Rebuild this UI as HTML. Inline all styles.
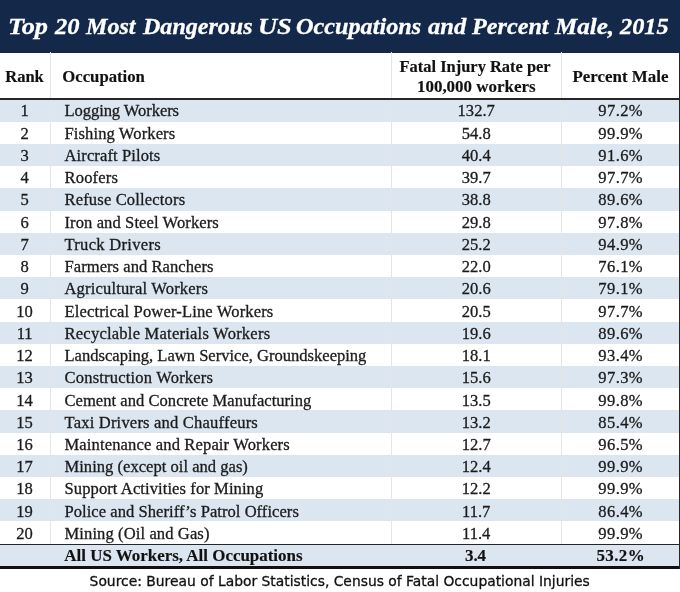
<!DOCTYPE html>
<html><head><meta charset="utf-8"><title>Top 20 Most Dangerous US Occupations</title>
<style>
html,body{margin:0;padding:0;}
body{width:680px;height:592px;position:relative;overflow:hidden;background:#fff;font-family:"Liberation Serif",serif;color:#1b1b1b;}
.abs{position:absolute;}
.banner{left:0;top:0;width:680px;height:52.9px;background:#14284a;}
.t{position:absolute;line-height:20px;height:20px;white-space:nowrap;filter:blur(0.35px);-webkit-text-stroke:0.3px currentColor;}
.title{color:#fff;font-style:italic;font-weight:bold;}
.b{font-weight:bold;color:#111;-webkit-text-stroke:0.15px currentColor;}
.row{left:0;width:680px;}
.blue{background:#dce6f1;}
.vline{width:1px;background:#e5e5e5;}
.src{font-family:"DejaVu Sans","Liberation Sans",sans-serif;color:#111;}
.dark{background:#262626;}
</style></head><body>
<div class="abs banner"></div>
<div class="abs row blue" style="top:99.50px;height:22.21px;"></div>
<div class="abs row blue" style="top:143.92px;height:22.21px;"></div>
<div class="abs row blue" style="top:188.34px;height:22.21px;"></div>
<div class="abs row blue" style="top:232.76px;height:22.21px;"></div>
<div class="abs row blue" style="top:277.18px;height:22.21px;"></div>
<div class="abs row blue" style="top:321.60px;height:22.21px;"></div>
<div class="abs row blue" style="top:366.02px;height:22.21px;"></div>
<div class="abs row blue" style="top:410.44px;height:22.21px;"></div>
<div class="abs row blue" style="top:454.86px;height:22.21px;"></div>
<div class="abs row blue" style="top:499.28px;height:22.21px;"></div>
<div class="abs row blue" style="top:543.70px;height:22.90px;"></div>
<div class="abs vline" style="left:50px;top:52px;height:491.70px;"></div>
<div class="abs vline" style="left:390.6px;top:52px;height:491.70px;"></div>
<div class="abs vline" style="left:560.6px;top:52px;height:491.70px;"></div>
<div class="abs dark" style="left:0;top:97.8px;width:680px;height:1.8px;"></div>
<div class="abs dark" style="left:0;top:543.6px;width:680px;height:1.9px;"></div>
<div class="abs dark" style="left:0;top:566.4px;width:680px;height:2.2px;background:#111;"></div>
<div class="abs dark" style="left:678.5px;top:52px;width:1.5px;height:516.50px;"></div>
<div class="abs" style="left:0;top:0;width:680px;height:52px;">
<span class="t title" style="left:8.47px;top:16.27px;font-size:23.8px;transform:scaleX(1.1052);transform-origin:0 0;">Top</span> 
<span class="t title" style="left:55.26px;top:16.27px;font-size:23.8px;transform:scaleX(1.0298);transform-origin:0 0;">20</span> 
<span class="t title" style="left:85.55px;top:16.27px;font-size:23.8px;transform:scaleX(1.0131);transform-origin:0 0;">Most</span> 
<span class="t title" style="left:142.75px;top:16.27px;font-size:23.8px;transform:scaleX(1.0102);transform-origin:0 0;">Dangerous</span> 
<span class="t title" style="left:258.08px;top:16.27px;font-size:23.8px;transform:scaleX(1.1091);transform-origin:0 0;">US</span> 
<span class="t title" style="left:296.24px;top:16.27px;font-size:23.8px;transform:scaleX(1.0181);transform-origin:0 0;">Occupations</span> 
<span class="t title" style="left:428.44px;top:16.27px;font-size:23.8px;transform:scaleX(1.0324);transform-origin:0 0;">and</span> 
<span class="t title" style="left:472.00px;top:16.27px;font-size:23.8px;transform:scaleX(1.0165);transform-origin:0 0;">Percent</span> 
<span class="t title" style="left:554.96px;top:16.27px;font-size:23.8px;transform:scaleX(1.0514);transform-origin:0 0;">Male,</span> 
<span class="t title" style="left:620.06px;top:16.27px;font-size:23.8px;transform:scaleX(1.0222);transform-origin:0 0;">2015</span> 
</div>
<div class="t b" style="left:5.20px;top:66.92px;font-size:16.54px;">Rank</div>
<div class="t b" style="left:62.30px;top:66.86px;font-size:16.72px;">Occupation</div>
<div class="t b" style="left:-24.90px;width:1000px;text-align:center;top:56.54px;font-size:16.46px;">Fatal Injury Rate per</div>
<div class="t b" style="left:-23.75px;width:1000px;text-align:center;top:77.28px;font-size:16.95px;">100,000 workers</div>
<div class="t b" style="left:120.50px;width:1000px;text-align:center;top:66.99px;font-size:16.92px;">Percent Male</div>
<div class="t " style="left:-475.40px;width:1000px;text-align:center;top:101.41px;font-size:16.56px;">1</div>
<div class="t " style="left:64.50px;top:101.41px;font-size:16.56px;letter-spacing:-0.071px;">Logging Workers</div>
<div class="t " style="left:-23.80px;width:1000px;text-align:center;top:101.41px;font-size:16.56px;">132.7</div>
<div class="t " style="left:120.70px;width:1000px;text-align:center;top:101.41px;font-size:16.56px;letter-spacing:0.4px;">97.2%</div>
<div class="t " style="left:-475.40px;width:1000px;text-align:center;top:123.65px;font-size:16.56px;">2</div>
<div class="t " style="left:64.50px;top:123.65px;font-size:16.56px;letter-spacing:0.107px;">Fishing Workers</div>
<div class="t " style="left:-23.80px;width:1000px;text-align:center;top:123.65px;font-size:16.56px;">54.8</div>
<div class="t " style="left:120.70px;width:1000px;text-align:center;top:123.65px;font-size:16.56px;letter-spacing:0.4px;">99.9%</div>
<div class="t " style="left:-475.40px;width:1000px;text-align:center;top:145.89px;font-size:16.56px;">3</div>
<div class="t " style="left:64.50px;top:145.89px;font-size:16.56px;letter-spacing:0.107px;">Aircraft Pilots</div>
<div class="t " style="left:-23.80px;width:1000px;text-align:center;top:145.89px;font-size:16.56px;">40.4</div>
<div class="t " style="left:120.70px;width:1000px;text-align:center;top:145.89px;font-size:16.56px;letter-spacing:0.4px;">91.6%</div>
<div class="t " style="left:-475.40px;width:1000px;text-align:center;top:168.13px;font-size:16.56px;">4</div>
<div class="t " style="left:64.50px;top:168.13px;font-size:16.56px;letter-spacing:0.167px;">Roofers</div>
<div class="t " style="left:-23.80px;width:1000px;text-align:center;top:168.13px;font-size:16.56px;">39.7</div>
<div class="t " style="left:120.70px;width:1000px;text-align:center;top:168.13px;font-size:16.56px;letter-spacing:0.4px;">97.7%</div>
<div class="t " style="left:-475.40px;width:1000px;text-align:center;top:190.37px;font-size:16.56px;">5</div>
<div class="t " style="left:64.50px;top:190.37px;font-size:16.56px;letter-spacing:0.156px;">Refuse Collectors</div>
<div class="t " style="left:-23.80px;width:1000px;text-align:center;top:190.37px;font-size:16.56px;">38.8</div>
<div class="t " style="left:120.70px;width:1000px;text-align:center;top:190.37px;font-size:16.56px;letter-spacing:0.4px;">89.6%</div>
<div class="t " style="left:-475.40px;width:1000px;text-align:center;top:212.61px;font-size:16.56px;">6</div>
<div class="t " style="left:64.50px;top:212.61px;font-size:16.56px;letter-spacing:0.095px;">Iron and Steel Workers</div>
<div class="t " style="left:-23.80px;width:1000px;text-align:center;top:212.61px;font-size:16.56px;">29.8</div>
<div class="t " style="left:120.70px;width:1000px;text-align:center;top:212.61px;font-size:16.56px;letter-spacing:0.4px;">97.8%</div>
<div class="t " style="left:-475.40px;width:1000px;text-align:center;top:234.85px;font-size:16.56px;">7</div>
<div class="t " style="left:64.50px;top:234.85px;font-size:16.56px;letter-spacing:0.292px;">Truck Drivers</div>
<div class="t " style="left:-23.80px;width:1000px;text-align:center;top:234.85px;font-size:16.56px;">25.2</div>
<div class="t " style="left:120.70px;width:1000px;text-align:center;top:234.85px;font-size:16.56px;letter-spacing:0.4px;">94.9%</div>
<div class="t " style="left:-475.40px;width:1000px;text-align:center;top:257.09px;font-size:16.56px;">8</div>
<div class="t " style="left:64.50px;top:257.09px;font-size:16.56px;letter-spacing:0.053px;">Farmers and Ranchers</div>
<div class="t " style="left:-23.80px;width:1000px;text-align:center;top:257.09px;font-size:16.56px;">22.0</div>
<div class="t " style="left:120.70px;width:1000px;text-align:center;top:257.09px;font-size:16.56px;letter-spacing:0.4px;">76.1%</div>
<div class="t " style="left:-475.40px;width:1000px;text-align:center;top:279.33px;font-size:16.56px;">9</div>
<div class="t " style="left:64.50px;top:279.33px;font-size:16.56px;letter-spacing:0.158px;">Agricultural Workers</div>
<div class="t " style="left:-23.80px;width:1000px;text-align:center;top:279.33px;font-size:16.56px;">20.6</div>
<div class="t " style="left:120.70px;width:1000px;text-align:center;top:279.33px;font-size:16.56px;letter-spacing:0.4px;">79.1%</div>
<div class="t " style="left:-475.40px;width:1000px;text-align:center;top:301.57px;font-size:16.56px;">10</div>
<div class="t " style="left:64.50px;top:301.57px;font-size:16.56px;letter-spacing:0.143px;">Electrical Power-Line Workers</div>
<div class="t " style="left:-23.80px;width:1000px;text-align:center;top:301.57px;font-size:16.56px;">20.5</div>
<div class="t " style="left:120.70px;width:1000px;text-align:center;top:301.57px;font-size:16.56px;letter-spacing:0.4px;">97.7%</div>
<div class="t " style="left:-475.40px;width:1000px;text-align:center;top:323.81px;font-size:16.56px;">11</div>
<div class="t " style="left:64.50px;top:323.81px;font-size:16.56px;letter-spacing:0.222px;">Recyclable Materials Workers</div>
<div class="t " style="left:-23.80px;width:1000px;text-align:center;top:323.81px;font-size:16.56px;">19.6</div>
<div class="t " style="left:120.70px;width:1000px;text-align:center;top:323.81px;font-size:16.56px;letter-spacing:0.4px;">89.6%</div>
<div class="t " style="left:-475.40px;width:1000px;text-align:center;top:346.05px;font-size:16.56px;">12</div>
<div class="t " style="left:64.50px;top:346.05px;font-size:16.56px;">Landscaping, Lawn Service, Groundskeeping</div>
<div class="t " style="left:-23.80px;width:1000px;text-align:center;top:346.05px;font-size:16.56px;">18.1</div>
<div class="t " style="left:120.70px;width:1000px;text-align:center;top:346.05px;font-size:16.56px;letter-spacing:0.4px;">93.4%</div>
<div class="t " style="left:-475.40px;width:1000px;text-align:center;top:368.29px;font-size:16.56px;">13</div>
<div class="t " style="left:64.50px;top:368.29px;font-size:16.56px;letter-spacing:0.184px;">Construction Workers</div>
<div class="t " style="left:-23.80px;width:1000px;text-align:center;top:368.29px;font-size:16.56px;">15.6</div>
<div class="t " style="left:120.70px;width:1000px;text-align:center;top:368.29px;font-size:16.56px;letter-spacing:0.4px;">97.3%</div>
<div class="t " style="left:-475.40px;width:1000px;text-align:center;top:390.53px;font-size:16.56px;">14</div>
<div class="t " style="left:64.50px;top:390.53px;font-size:16.56px;letter-spacing:0.031px;">Cement and Concrete Manufacturing</div>
<div class="t " style="left:-23.80px;width:1000px;text-align:center;top:390.53px;font-size:16.56px;">13.5</div>
<div class="t " style="left:120.70px;width:1000px;text-align:center;top:390.53px;font-size:16.56px;letter-spacing:0.4px;">99.8%</div>
<div class="t " style="left:-475.40px;width:1000px;text-align:center;top:412.77px;font-size:16.56px;">15</div>
<div class="t " style="left:64.50px;top:412.77px;font-size:16.56px;letter-spacing:0.192px;">Taxi Drivers and Chauffeurs</div>
<div class="t " style="left:-23.80px;width:1000px;text-align:center;top:412.77px;font-size:16.56px;">13.2</div>
<div class="t " style="left:120.70px;width:1000px;text-align:center;top:412.77px;font-size:16.56px;letter-spacing:0.4px;">85.4%</div>
<div class="t " style="left:-475.40px;width:1000px;text-align:center;top:435.01px;font-size:16.56px;">16</div>
<div class="t " style="left:64.50px;top:435.01px;font-size:16.56px;letter-spacing:0.138px;">Maintenance and Repair Workers</div>
<div class="t " style="left:-23.80px;width:1000px;text-align:center;top:435.01px;font-size:16.56px;">12.7</div>
<div class="t " style="left:120.70px;width:1000px;text-align:center;top:435.01px;font-size:16.56px;letter-spacing:0.4px;">96.5%</div>
<div class="t " style="left:-475.40px;width:1000px;text-align:center;top:457.25px;font-size:16.56px;">17</div>
<div class="t " style="left:64.50px;top:457.25px;font-size:16.56px;letter-spacing:0.019px;">Mining (except oil and gas)</div>
<div class="t " style="left:-23.80px;width:1000px;text-align:center;top:457.25px;font-size:16.56px;">12.4</div>
<div class="t " style="left:120.70px;width:1000px;text-align:center;top:457.25px;font-size:16.56px;letter-spacing:0.4px;">99.9%</div>
<div class="t " style="left:-475.40px;width:1000px;text-align:center;top:479.49px;font-size:16.56px;">18</div>
<div class="t " style="left:64.50px;top:479.49px;font-size:16.56px;letter-spacing:0.089px;">Support Activities for Mining</div>
<div class="t " style="left:-23.80px;width:1000px;text-align:center;top:479.49px;font-size:16.56px;">12.2</div>
<div class="t " style="left:120.70px;width:1000px;text-align:center;top:479.49px;font-size:16.56px;letter-spacing:0.4px;">99.9%</div>
<div class="t " style="left:-475.40px;width:1000px;text-align:center;top:501.73px;font-size:16.56px;">19</div>
<div class="t " style="left:64.50px;top:501.73px;font-size:16.56px;letter-spacing:0.043px;">Police and Sheriff’s Patrol Officers</div>
<div class="t " style="left:-23.80px;width:1000px;text-align:center;top:501.73px;font-size:16.56px;">11.7</div>
<div class="t " style="left:120.70px;width:1000px;text-align:center;top:501.73px;font-size:16.56px;letter-spacing:0.4px;">86.4%</div>
<div class="t " style="left:-475.40px;width:1000px;text-align:center;top:523.97px;font-size:16.56px;">20</div>
<div class="t " style="left:64.50px;top:523.97px;font-size:16.56px;letter-spacing:0.105px;">Mining (Oil and Gas)</div>
<div class="t " style="left:-23.80px;width:1000px;text-align:center;top:523.97px;font-size:16.56px;">11.4</div>
<div class="t " style="left:120.70px;width:1000px;text-align:center;top:523.97px;font-size:16.56px;letter-spacing:0.4px;">99.9%</div>
<div class="t b" style="left:64.30px;top:546.08px;font-size:16.96px;">All US Workers, All Occupations</div>
<div class="t b" style="left:-24.50px;width:1000px;text-align:center;top:546.08px;font-size:16.96px;">3.4</div>
<div class="t b" style="left:120.70px;width:1000px;text-align:center;top:546.08px;font-size:16.96px;letter-spacing:0.4px;">53.2%</div>
<div class="t src" style="left:89.60px;top:570.60px;font-size:13.87px;">Source: Bureau of Labor Statistics, Census of Fatal Occupational Injuries</div>
</body></html>
